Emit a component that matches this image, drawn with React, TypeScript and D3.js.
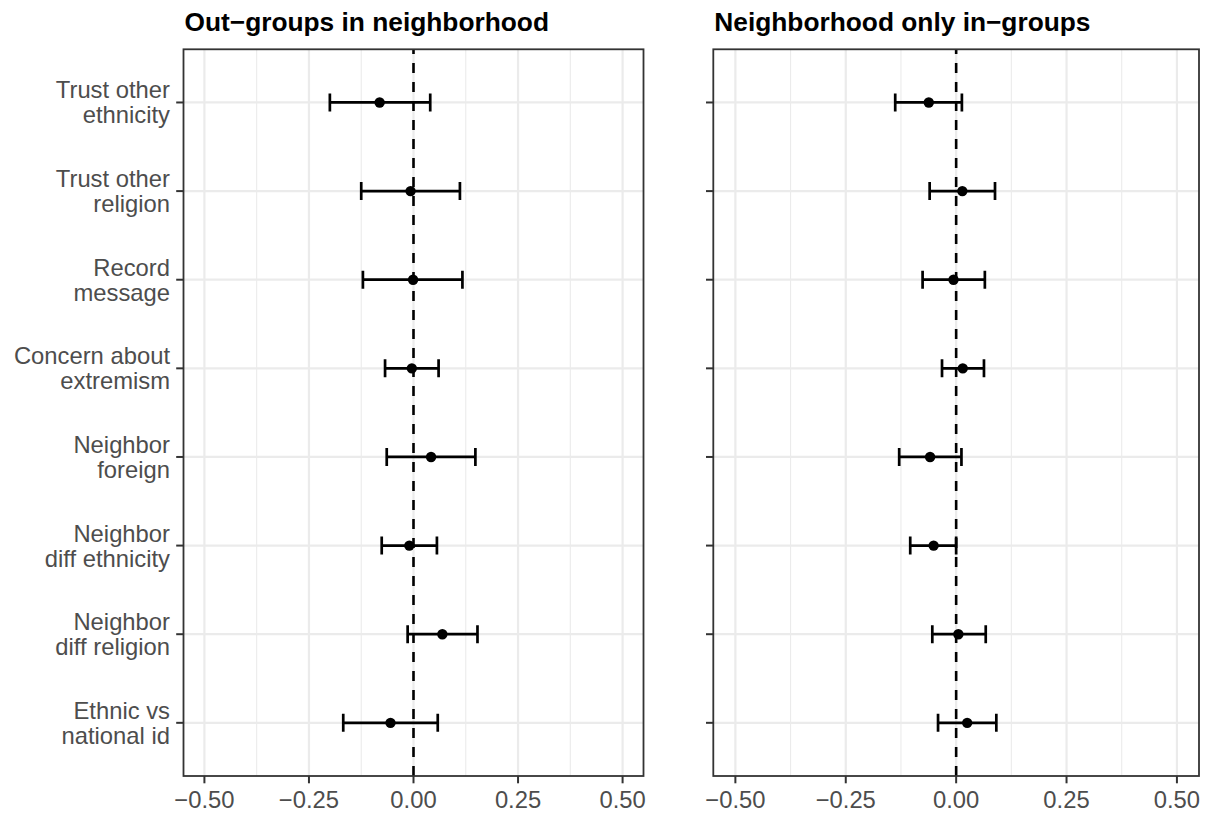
import * as d3 from 'd3';
import React, { useEffect, useRef } from 'react';

// outcomes, top to bottom
const categories = [
  'Trust other\nethnicity',
  'Trust other\nreligion',
  'Record\nmessage',
  'Concern about\nextremism',
  'Neighbor\nforeign',
  'Neighbor\ndiff ethnicity',
  'Neighbor\ndiff religion',
  'Ethnic vs\nnational id',
];

// left panel: out-groups in neighborhood
const outEst = [-0.081, -0.007, -0.001, -0.004, 0.042, -0.010, 0.069, -0.055];
const outLow = [-0.200, -0.125, -0.121, -0.068, -0.064, -0.076, -0.014, -0.168];
const outHigh = [0.040, 0.111, 0.117, 0.060, 0.148, 0.056, 0.153, 0.058];

// right panel: neighborhood only in-groups
const inEst = [-0.062, 0.014, -0.006, 0.015, -0.059, -0.051, 0.005, 0.025];
const inLow = [-0.138, -0.060, -0.076, -0.032, -0.129, -0.104, -0.054, -0.041];
const inHigh = [0.013, 0.088, 0.065, 0.063, 0.012, 0.000, 0.067, 0.091];

const xTicks = [-0.5, -0.25, 0, 0.25, 0.5];
const xMinor = [-0.375, -0.125, 0.125, 0.375];

const titles = ['Out\u2212groups in neighborhood', 'Neighborhood only in\u2212groups'];

const W = 1208;
const H = 816;
const FONT = '"Liberation Sans", Arial, Helvetica, sans-serif';

export default function App() {
  const ref = useRef<SVGSVGElement>(null);

  useEffect(() => {
    const svg = d3.select(ref.current);
    svg.selectAll('*').remove();

    const top = 49.3;
    const bottom = 776;
    const panels = [
      { left: 183.5, right: 643.5, est: outEst, low: outLow, high: outHigh, labels: true },
      { left: 713.3, right: 1199, est: inEst, low: inLow, high: inHigh, labels: false },
    ];

    const y = d3.scalePoint<string>().domain(categories).range([top, bottom]).padding(0.6);
    const fmt = d3.format('.2f');

    panels.forEach((p, pi) => {
      const x = d3.scaleLinear().domain([-0.55, 0.55]).range([p.left, p.right]);
      const g = svg.append('g');

      // panel background grid
      g.selectAll('line.minor')
        .data(xMinor)
        .enter()
        .append('line')
        .attr('x1', d => x(d)).attr('x2', d => x(d))
        .attr('y1', top).attr('y2', bottom)
        .attr('stroke', '#EBEBEB')
        .attr('stroke-width', 1.1);
      g.selectAll('line.vmajor')
        .data(xTicks)
        .enter()
        .append('line')
        .attr('x1', d => x(d)).attr('x2', d => x(d))
        .attr('y1', top).attr('y2', bottom)
        .attr('stroke', '#EBEBEB')
        .attr('stroke-width', 2.2);
      g.selectAll('line.hmajor')
        .data(categories)
        .enter()
        .append('line')
        .attr('x1', p.left).attr('x2', p.right)
        .attr('y1', d => y(d)!).attr('y2', d => y(d)!)
        .attr('stroke', '#EBEBEB')
        .attr('stroke-width', 2.2);

      // zero reference
      g.append('line')
        .attr('x1', x(0)).attr('x2', x(0))
        .attr('y1', bottom).attr('y2', top)
        .attr('stroke', 'black')
        .attr('stroke-width', 2.6)
        .attr('stroke-dasharray', '10,9');

      // error bars
      const rows = categories.map((c, i) => ({ c, est: p.est[i], low: p.low[i], high: p.high[i] }));
      const cap = 9;
      rows.forEach(r => {
        const yy = y(r.c)!;
        g.append('path')
          .attr('d', `M${x(r.low)},${yy}H${x(r.high)}M${x(r.low)},${yy - cap}V${yy + cap}M${x(r.high)},${yy - cap}V${yy + cap}`)
          .attr('fill', 'none')
          .attr('stroke', 'black')
          .attr('stroke-width', 2.7);
      });
      g.selectAll('circle')
        .data(rows)
        .enter()
        .append('circle')
        .attr('cx', d => x(d.est))
        .attr('cy', d => y(d.c)!)
        .attr('r', 5.2)
        .attr('fill', 'black');

      // border
      g.append('rect')
        .attr('x', p.left).attr('y', top)
        .attr('width', p.right - p.left).attr('height', bottom - top)
        .attr('fill', 'none')
        .attr('stroke', '#333333')
        .attr('stroke-width', 1.8);

      // x axis
      g.selectAll('line.xtick')
        .data(xTicks)
        .enter()
        .append('line')
        .attr('x1', d => x(d)).attr('x2', d => x(d))
        .attr('y1', bottom).attr('y2', bottom + 7.3)
        .attr('stroke', '#333333')
        .attr('stroke-width', 2);
      g.selectAll('text.xlab')
        .data(xTicks)
        .enter()
        .append('text')
        .attr('x', d => x(d))
        .attr('y', 808)
        .attr('text-anchor', 'middle')
        .attr('font-family', FONT)
        .attr('font-size', 23.8)
        .attr('fill', '#4D4D4D')
        .text(d => fmt(d));

      // y axis ticks
      g.selectAll('line.ytick')
        .data(categories)
        .enter()
        .append('line')
        .attr('x1', p.left - 7.3).attr('x2', p.left)
        .attr('y1', d => y(d)!).attr('y2', d => y(d)!)
        .attr('stroke', '#333333')
        .attr('stroke-width', 2);

      if (p.labels) {
        categories.forEach(c => {
          const t = g.append('text')
            .attr('text-anchor', 'end')
            .attr('font-family', FONT)
            .attr('font-size', 23.8)
            .attr('fill', '#4D4D4D');
          c.split('\n').forEach((line, li) => {
            t.append('tspan')
              .attr('x', p.left - 13.5)
              .attr('y', y(c)! - 4 + li * 25)
              .text(line);
          });
        });
      }

      // title
      svg.append('text')
        .attr('x', p.left + 1)
        .attr('y', 30.5)
        .attr('font-family', FONT)
        .attr('font-size', 26.3)
        .attr('font-weight', 'bold')
        .attr('fill', 'black')
        .text(titles[pi]);
    });
  }, []);

  return (
    <div>
      <svg ref={ref} width={W} height={H} style={{ position: 'absolute', left: 0, top: 0, background: 'white' }} />
    </div>
  );
}
